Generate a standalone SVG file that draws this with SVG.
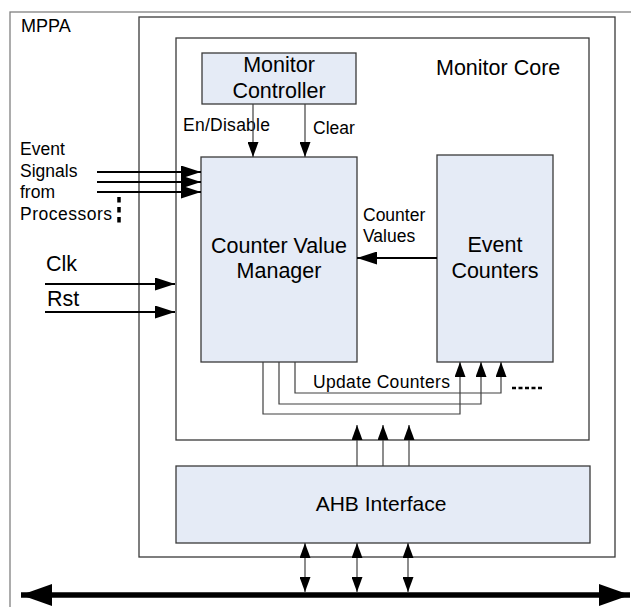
<svg xmlns="http://www.w3.org/2000/svg" width="631" height="607" viewBox="0 0 631 607">
<style>
  .frame{fill:none;stroke:#3a3a3a;stroke-width:1.3}
  .outer{fill:none;stroke:#808080;stroke-width:1.3}
  .blk{fill:#e5ebf6;stroke:#3a3a3a;stroke-width:1.3}
  text{font-family:"Liberation Sans",Arial,sans-serif;fill:#000}
  .t22{font-size:21.5px}
  .t18{font-size:17.5px}
  .wire{fill:none;stroke:#404040;stroke-width:1.2}
  .sig{fill:none;stroke:#000;stroke-width:2.2}
</style>
<defs>
  <marker id="ab" markerUnits="userSpaceOnUse" markerWidth="20" markerHeight="13" refX="20" refY="6.5" orient="auto"><path d="M0,0 L20,6.5 L0,13 z" fill="#000"/></marker>
  <marker id="as" markerUnits="userSpaceOnUse" markerWidth="15" markerHeight="11" refX="15" refY="5.5" orient="auto-start-reverse"><path d="M0,0 L15,5.5 L0,11 z" fill="#000"/></marker>
  <marker id="abus" markerUnits="userSpaceOnUse" markerWidth="31" markerHeight="22" refX="31" refY="11" orient="auto-start-reverse"><path d="M0,0 L31,11 L0,22 z" fill="#000"/></marker>
</defs>

<g id="mppa"><rect class="outer" x="10" y="12" width="640" height="620"/><text x="21" y="32" font-size="18">MPPA</text></g>
<g id="chip"><rect class="frame" x="139" y="17" width="476" height="540"/></g>
<g id="monitor-core"><rect class="frame" x="176" y="38" width="413" height="402"/><text class="t22" x="436" y="75">Monitor Core</text></g>
<g id="monitor-controller"><rect class="blk" x="202" y="53" width="154" height="51"/><text class="t22" x="279" y="72" text-anchor="middle" font-size="22">Monitor</text><text class="t22" x="279" y="98" text-anchor="middle" font-size="22">Controller</text></g>
<g id="counter-value-manager"><rect class="blk" x="201" y="157" width="156" height="205"/><text class="t22" x="279" y="253" text-anchor="middle">Counter Value</text><text class="t22" x="279" y="278" text-anchor="middle">Manager</text></g>
<g id="event-counters"><rect class="blk" x="437" y="155" width="116" height="207"/><text class="t22" x="495" y="252" text-anchor="middle">Event</text><text class="t22" x="495" y="278" text-anchor="middle">Counters</text></g>
<g id="ahb-interface"><rect class="blk" x="176" y="466" width="414" height="77"/><text x="381" y="511" font-size="21" text-anchor="middle">AHB Interface</text></g>

<g id="labels">
  <text class="t18" x="20" y="155">Event</text>
  <text class="t18" x="20" y="177">Signals</text>
  <text class="t18" x="20" y="198">from</text>
  <text class="t18" x="20" y="220" textLength="92">Processors</text>
  <text x="46" y="271" font-size="21.5">Clk</text>
  <text x="47" y="306" font-size="21.5">Rst</text>
  <text class="t18" x="183" y="131" textLength="87">En/Disable</text>
  <text class="t18" x="313" y="134">Clear</text>
  <text class="t18" x="363" y="221">Counter</text>
  <text class="t18" x="363" y="242">Values</text>
  <text class="t18" x="313" y="388" textLength="137">Update Counters</text>
</g>

<g id="connectors">
  <line class="sig" x1="97" y1="172" x2="201" y2="172" marker-end="url(#ab)"/>
  <line class="sig" x1="97" y1="182" x2="201" y2="182" marker-end="url(#ab)"/>
  <line class="sig" x1="97" y1="192" x2="201" y2="192" marker-end="url(#ab)"/>
  <line x1="119" y1="197" x2="119" y2="227" stroke="#000" stroke-width="3.5" stroke-dasharray="5.5 4.5"/>
  <line class="sig" x1="45" y1="284" x2="175" y2="284" stroke-width="2" marker-end="url(#ab)"/>
  <line class="sig" x1="45" y1="312" x2="175" y2="312" stroke-width="2" marker-end="url(#ab)"/>
  <line class="wire" x1="253" y1="104" x2="253" y2="157" marker-end="url(#as)"/>
  <line class="wire" x1="305" y1="104" x2="305" y2="157" marker-end="url(#as)"/>
  <line class="sig" x1="437" y1="258" x2="357" y2="258" stroke-width="2.5" marker-end="url(#ab)"/>
  <polyline class="wire" points="263,362 263,414 460,414 460,362" marker-end="url(#as)"/>
  <polyline class="wire" points="279,362 279,404 481,404 481,362" marker-end="url(#as)"/>
  <polyline class="wire" points="295,362 295,393 501,393 501,362" marker-end="url(#as)"/>
  <line x1="512" y1="388" x2="542" y2="388" stroke="#000" stroke-width="2.5" stroke-dasharray="4 2.5"/>
  <line class="wire" x1="357" y1="466" x2="357" y2="425" marker-end="url(#as)"/>
  <line class="wire" x1="383" y1="466" x2="383" y2="425" marker-end="url(#as)"/>
  <line class="wire" x1="409" y1="466" x2="409" y2="425" marker-end="url(#as)"/>
  <line class="wire" x1="305" y1="543" x2="305" y2="592" marker-start="url(#as)" marker-end="url(#as)"/>
  <line class="wire" x1="357" y1="543" x2="357" y2="592" marker-start="url(#as)" marker-end="url(#as)"/>
  <line class="wire" x1="408" y1="543" x2="408" y2="592" marker-start="url(#as)" marker-end="url(#as)"/>
  <line x1="21" y1="595" x2="630" y2="595" stroke="#000" stroke-width="5.5" marker-start="url(#abus)" marker-end="url(#abus)"/>
</g>
</svg>
